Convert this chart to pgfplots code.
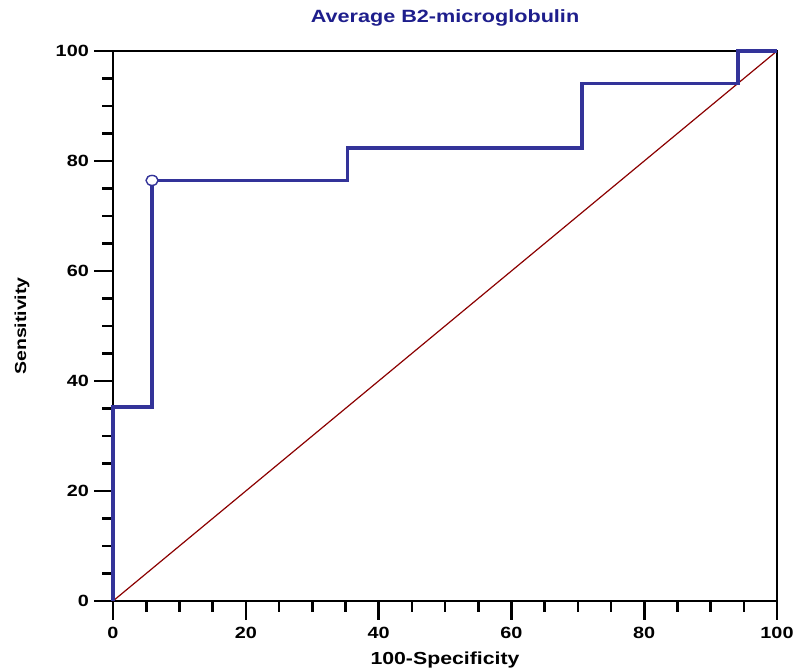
\documentclass[border=0pt]{standalone}
\usepackage{pgfplots}
\pgfplotsset{compat=1.18}
\usepackage{fontspec}
\setmainfont{Liberation Sans Bold}[FakeStretch=1.22]

\definecolor{rocblue}{RGB}{51,51,153}
\definecolor{titleblue}{RGB}{30,30,140}
\definecolor{diagred}{RGB}{139,0,0}

\begin{document}
\begin{tikzpicture}
\path[use as bounding box] (0,0) rectangle (797bp,669bp);
\begin{axis}[
  at={(113bp,68bp)}, anchor=south west,
  scale only axis, width=664bp, height=550bp,
  xmin=0, xmax=100, ymin=0, ymax=100,
  xtick={0,20,...,100}, ytick={0,20,...,100},
  minor tick num=3,
  tick align=outside,
  tick pos=left,
  major tick length=19bp, minor tick length=11bp,
  every tick/.style={black, line width=2.6bp},
  axis line style={line width=2.6bp},
  ticklabel style={font=\fontsize{16.3}{18}\selectfont, inner sep=0pt},
  xticklabel style={anchor=north, yshift=-7bp},
  yticklabel style={anchor=east, xshift=-5bp},
  /pgf/number format/assume math mode=true,
  clip=false,
]
% chance line
\addplot[diagred, line width=1.2bp] coordinates {(0,0) (100,100)};

% ROC curve
\addplot[rocblue, line width=3.6bp, line join=miter] coordinates {
  (0,0) (0,35.29) (5.88,35.29) (5.88,76.47) (35.29,76.47)
  (35.29,82.35) (70.59,82.35) (70.59,94.12) (94.12,94.12)
  (94.12,100) (100,100)
};

% optimal cut-off
\addplot[only marks, mark=*, mark size=5bp,
  mark options={draw=rocblue, fill=white, line width=1.4bp, xscale=1.2}]
  coordinates {(5.88,76.47)};

\node[font=\fontsize{17.8}{20}\selectfont, text=titleblue] at (axis description cs:0.5,1.06) {Average B2-microglobulin};
\node[font=\fontsize{17.5}{20}\selectfont] at (axis description cs:0.5,-0.107) {100-Specificity};
\node[font=\fontsize{16}{18}\selectfont, rotate=90] at (axis description cs:-0.137,0.5) {Sensitivity};
\end{axis}
\end{tikzpicture}
\end{document}
